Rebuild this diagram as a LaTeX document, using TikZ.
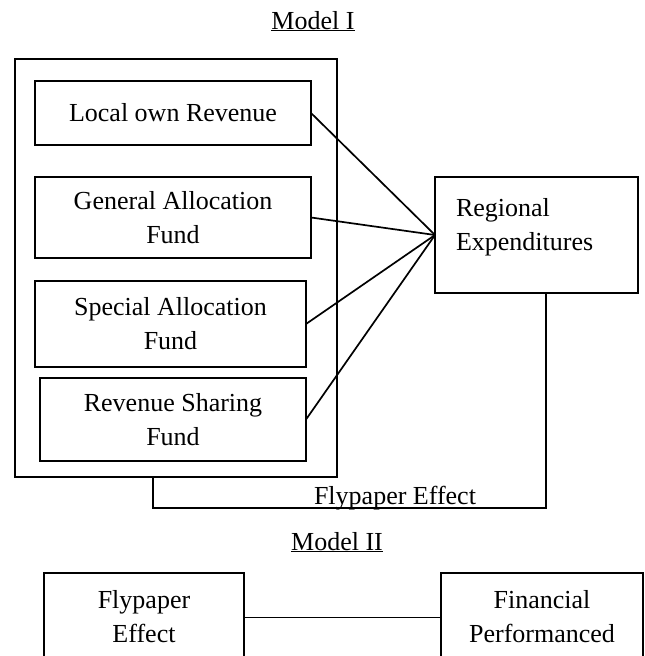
\documentclass[tikz,border=0pt]{standalone}
\usepackage{fontspec}
\setmainfont{Liberation Serif}
\tikzset{
    every picture/.style = {
        x = 1pt,
        y = 1pt,
        line width = 1.6pt
    },
    every node/.style = {
        inner sep = 0pt,
        outer sep = 0pt,
        align = center,
        font = \fontsize{26}{34}\selectfont
    },
    box/.style args = {#1 by #2}{%
        draw,
        line width = 2.2pt,
        minimum width = #1,
        minimum height = #2
    },
    link/.style = {
        line width = 1.7pt
    }
}

\begin{document}
\begin{tikzpicture}
    \useasboundingbox (0, 0) rectangle (645, -656);
    \clip (0, 0) rectangle (645, -656);

    % Model I
    \node[anchor = base] (model1) at (313, -29) {\underline{Model I}};

    \node[box = 322pt by 418pt, line width = 2pt] (sources) at (176, -268) {};

    \node[box = 276pt by 64pt] (lor) at (173, -113) {Local own Revenue};
    \node[box = 276pt by 81pt] (gaf) at (173, -217.5) {General Allocation\\Fund};
    \node[box = 271pt by 86pt] (saf) at (170.5, -324) {Special Allocation\\Fund};
    \node[box = 266pt by 83pt] (rsf) at (173, -419.5) {Revenue Sharing\\Fund};

    \node[box = 203pt by 116pt] (regexp) at (536.5, -235) {};
    \node[anchor = north west, align = left] (regtext) at (456, -198) {Regional\\Expenditures};

    \foreach \src in {lor, gaf, saf, rsf}
        \draw[link] (\src.east) -- (regexp.west);

    \coordinate (fpl) at (153, -508);
    \coordinate (fpr) at (546, -508);
    \draw[line width = 1.5pt] (sources.south -| fpl) -- (fpl) -- (fpr) -- (regexp.south -| fpr);
    \node[anchor = base] (fplabel) at (395, -504) {Flypaper Effect};

    % Model II
    \node[anchor = base] (model2) at (337, -550) {\underline{Model II}};

    \node[box = 200pt by 88pt, line width = 2.6pt] (fly) at (144, -617) {Flypaper\\Effect};
    \node[box = 202pt by 88pt, line width = 2.6pt] (fin) at (542, -617) {Financial\\Performanced};

    \draw[line width = 1pt] (fly.east) -- (fin.west);
\end{tikzpicture}
\end{document}
